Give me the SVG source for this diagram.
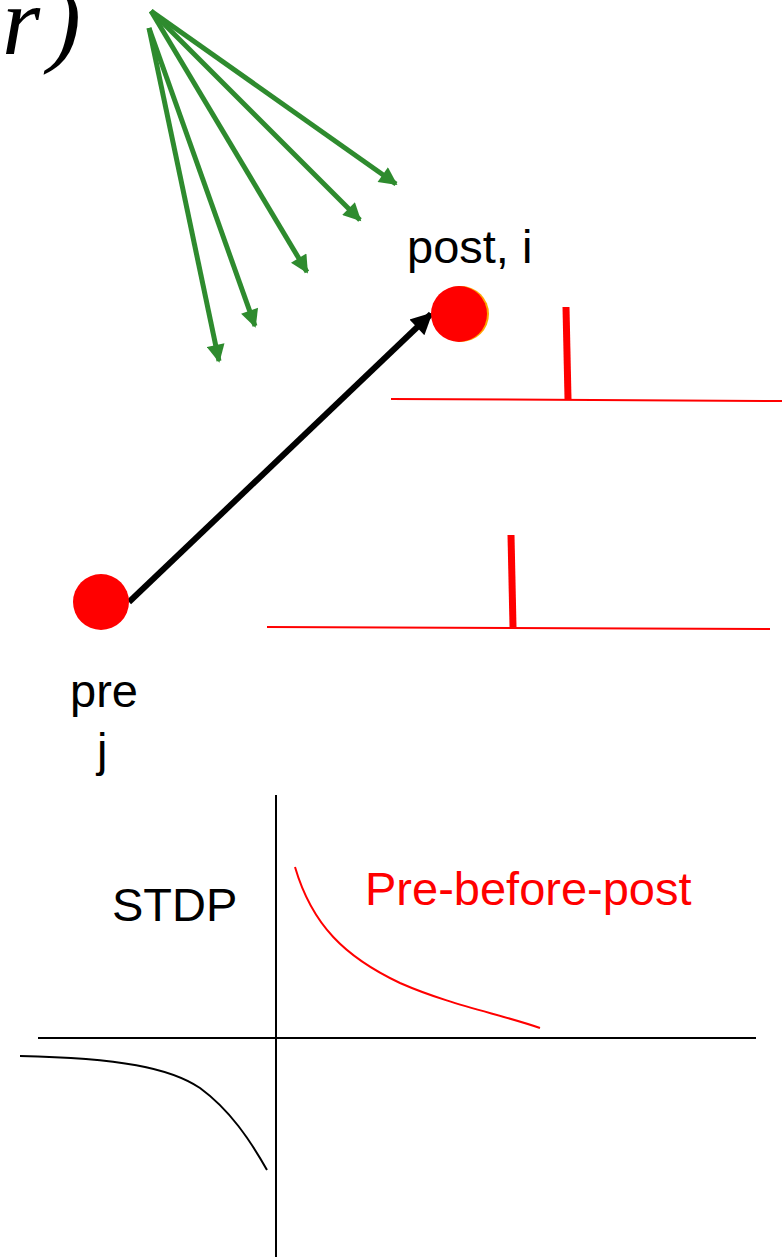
<svg xmlns="http://www.w3.org/2000/svg" width="782" height="1257" viewBox="0 0 782 1257">
<style>
.lbl{font-family:"Liberation Sans",Arial,sans-serif;font-size:47px;fill:#000}
.g{stroke:#2e8b2e;stroke-width:5;fill:none}
.red{stroke:#ff0000;fill:none}
</style>
<defs>
<marker id="ga" viewBox="0 0 10 10" refX="9" refY="5" markerWidth="4" markerHeight="3.6" orient="auto" markerUnits="strokeWidth">
<path d="M0,0 L10,5 L0,10 Z" fill="#2e8b2e"/>
</marker>
<marker id="ba" viewBox="0 0 10 10" refX="9" refY="5" markerWidth="4" markerHeight="3.6" orient="auto" markerUnits="strokeWidth">
<path d="M0,0 L10,5 L0,10 Z" fill="#000"/>
</marker>
</defs>
<rect width="782" height="1257" fill="#fff"/>
<text x="2" y="54" font-family="'Liberation Serif','Times New Roman',serif" font-style="italic" font-size="98" fill="#000">r<tspan dx="8">)</tspan></text>
<g id="connectors">
<line class="g" x1="151" y1="11" x2="396" y2="184" marker-end="url(#ga)"/>
<line class="g" x1="151" y1="11" x2="360" y2="220" marker-end="url(#ga)"/>
<line class="g" x1="151" y1="11" x2="307" y2="272" marker-end="url(#ga)"/>
<line class="g" x1="149" y1="28" x2="255" y2="326" marker-end="url(#ga)"/>
<line class="g" x1="149" y1="28" x2="219" y2="361" marker-end="url(#ga)"/>
<line x1="129" y1="602" x2="431" y2="314" stroke="#000" stroke-width="6" marker-end="url(#ba)"/>
</g>
<g id="post">
<circle cx="461" cy="314" r="28" fill="#ffa500"/>
<circle cx="459" cy="314" r="28" fill="#ff0000"/>
<text class="lbl" x="407" y="263">post, i</text>
</g>
<g id="pre">
<circle cx="101" cy="602" r="28" fill="#ff0000"/>
<text class="lbl" x="70" y="707">pre</text>
<text class="lbl" x="97" y="766">j</text>
</g>
<g id="post-train">
<line class="red" x1="391" y1="399" x2="782" y2="401" stroke-width="2"/>
<line class="red" x1="566" y1="307" x2="568" y2="399" stroke-width="7"/>
</g>
<g id="pre-train">
<line class="red" x1="267" y1="627" x2="770" y2="629" stroke-width="2"/>
<line class="red" x1="511" y1="535" x2="513" y2="627" stroke-width="7"/>
</g>
<g id="stdp-plot">
<line x1="276" y1="795" x2="276" y2="1257" stroke="#000" stroke-width="2"/>
<line x1="38" y1="1038" x2="756" y2="1038" stroke="#000" stroke-width="2"/>
<path class="red" stroke-width="2" d="M295,867 C312,925 345,957 400,983 C450,1005 500,1014 540,1028"/>
<path d="M20,1056 C120,1058 170,1068 200,1088 C230,1110 250,1140 267,1170" stroke="#000" stroke-width="2" fill="none"/>
<text class="lbl" x="112" y="921">STDP</text>
<text class="lbl" x="365" y="905" style="fill:#ff0000">Pre-before-post</text>
</g>
</svg>
